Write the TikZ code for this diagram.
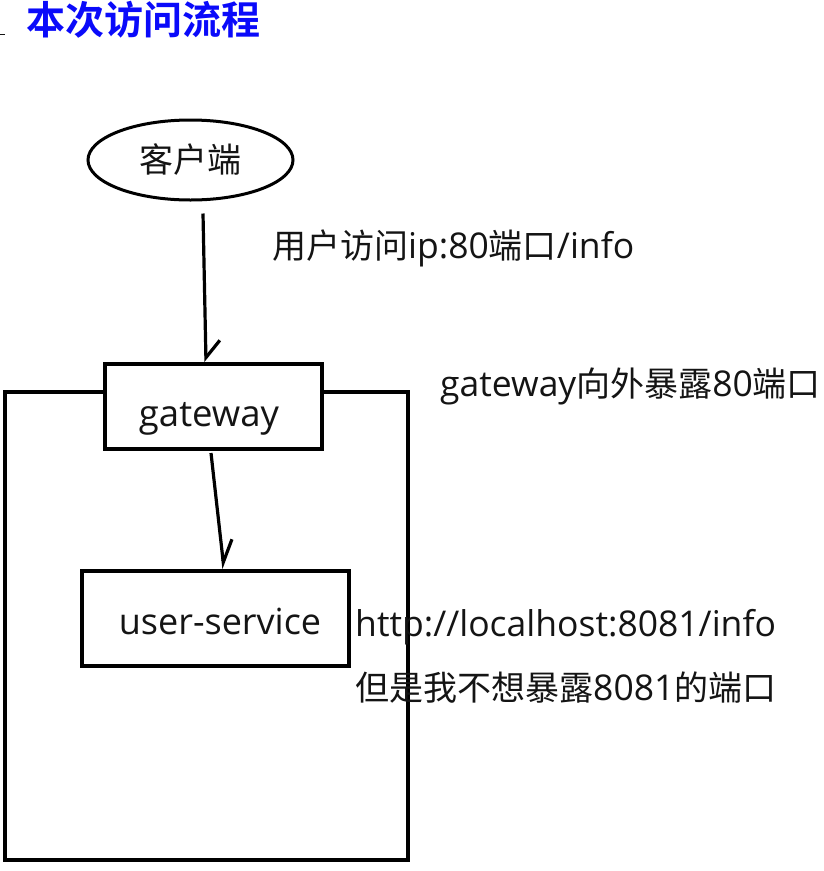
\documentclass[tikz,border=0pt]{standalone}
\usepackage{fontspec}
\setmainfont{Open Sans}
\newfontfamily\cjk{Noto Sans CJK SC}
\newfontfamily\cjkbold{Noto Sans CJK SC Bold}
\usetikzlibrary{arrows.meta,shapes.geometric,calc}
\definecolor{titleblue}{RGB}{10,10,250}
\definecolor{ink}{RGB}{20,20,20}
\newcommand{\cj}[1]{{\cjk\fontsize{34}{40}\selectfont #1}}
\begin{document}
\begin{tikzpicture}[x=1pt,y=-1pt,
  box/.style={draw=black,line width=4pt,rectangle,inner sep=0pt},
  lbl/.style={anchor=west,inner sep=0pt,text=ink,font=\fontsize{35.5}{40}\selectfont},
  conn/.style={line width=3.2pt}]
\useasboundingbox (0,0) rectangle (824,871);
% title
\node[anchor=west,inner sep=0pt,text=titleblue,font=\cjkbold\fontsize{39}{44}\selectfont] (title) at (26,20) {本次访问流程};
\coordinate (markA) at (0,34);
\coordinate (markB) at (5,34);
\draw[line width=1pt,ink] (markA) -- (markB);
% outer box
\node[box,minimum width=403,minimum height=468] (outer) at (206.5,626) {};
% client
\node[draw=black,line width=3pt,ellipse,minimum width=205,minimum height=80,inner sep=0pt,font=\cjk\fontsize{34}{40}\selectfont,text=ink] (client) at (190.5,160) {客户端};
% gateway
\node[box,fill=white,minimum width=217,minimum height=85] (gw) at (213.5,406.5) {};
\node[lbl,anchor=center,font=\fontsize{36.5}{40}\selectfont] (gwt) at (209,419) {gateway};
% user-service
\node[box,minimum width=267,minimum height=95] (us) at (215.5,618.5) {};
\node[lbl,anchor=center,font=\fontsize{36}{40}\selectfont] (ust) at (220,621) {user-service};
% labels
\node[lbl] (l1) at (272,248) {\cj{用户访问}ip:80\cj{端口}/info};
\node[lbl] (l2) at (440,386) {gateway\cj{向外暴露}80\cj{端口}};
\node[lbl] (l3) at (355,627) {http://localhost:8081/info};
\node[lbl] (l4) at (355,688) {\cj{但是我不想暴露}8081\cj{的端口}};
% connectors
\coordinate (a1s) at ([shift={(12.5,12)}]client.south);
\coordinate (a1e) at ([xshift=-7.5]gw.north);
\draw[conn,-{Straight Barb[harpoon,length=17pt,angle'=80,line width=3.2pt]}] (a1s) -- (a1e);
\coordinate (a2s) at ([shift={(-2.5,2)}]gw.south);
\coordinate (a2e) at ([xshift=8.5]us.north);
\draw[conn,-{Straight Barb[harpoon,length=22pt,angle'=54,line width=3.2pt]}] (a2s) -- (a2e);
\end{tikzpicture}
\end{document}
